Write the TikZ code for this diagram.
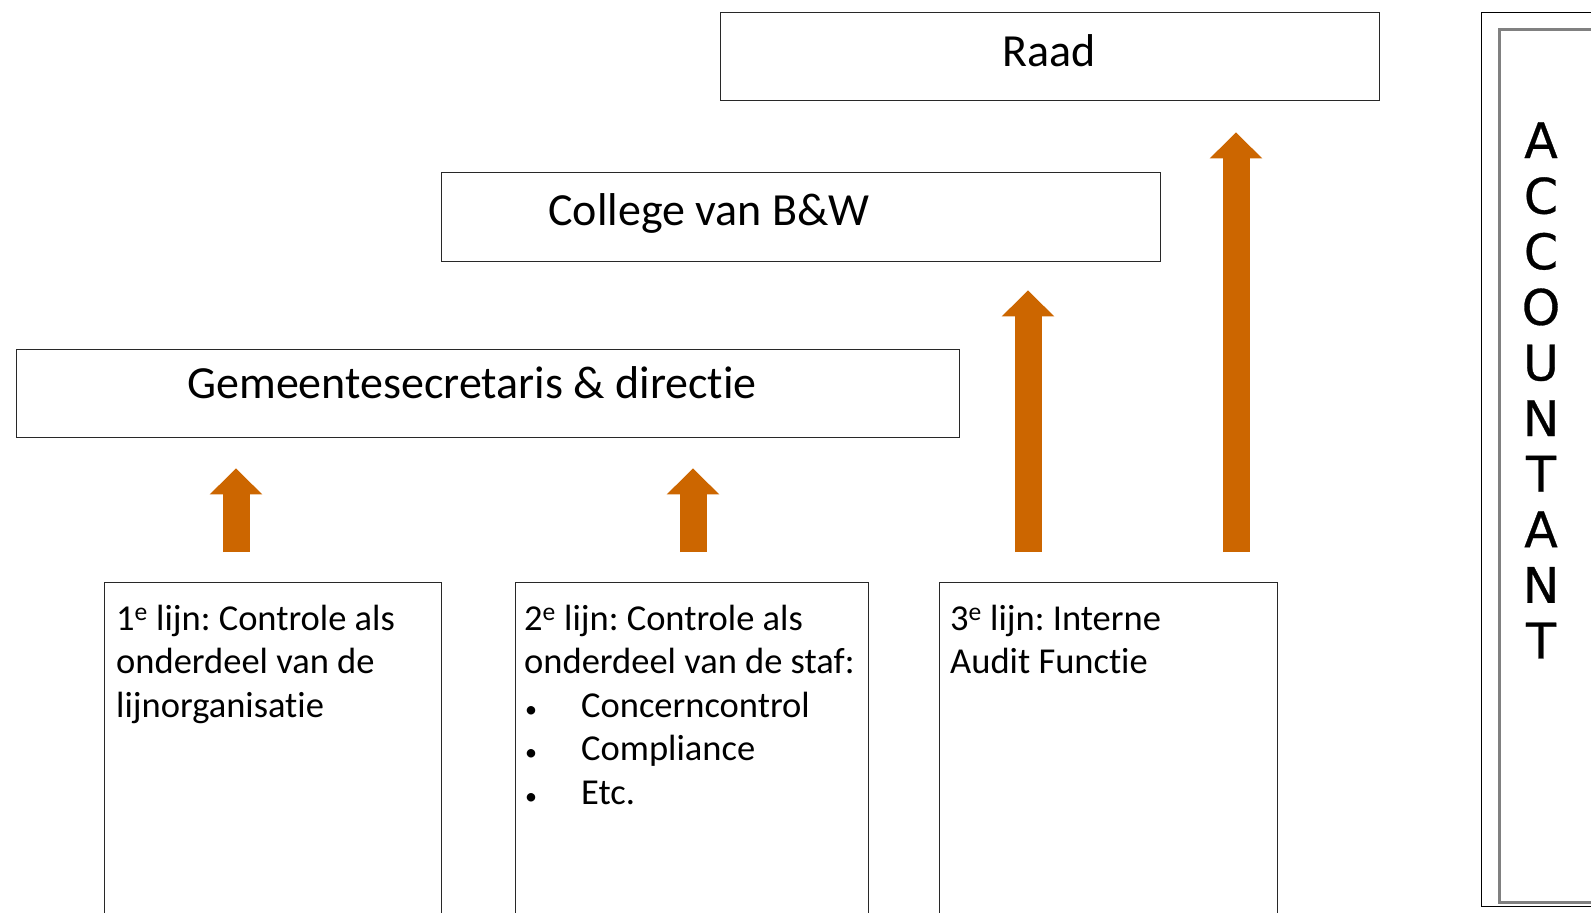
\documentclass[tikz,border=0pt]{standalone}
\usepackage{fontspec}
\setmainfont{Carlito}[RawFeature=-liga]
\newfontfamily\accfont{DejaVu Sans}[FakeBold=0.6]
\usetikzlibrary{arrows.meta}
\definecolor{arroworange}{RGB}{204,102,0}
\definecolor{boxline}{RGB}{40,40,40}
\newcommand{\bul}{\makebox[57pt][l]{\hspace{1pt}{\fontsize{24}{24}\selectfont •}}}
\begin{document}
\frenchspacing
\begin{tikzpicture}[x=1pt,y=-1pt,
  box/.style={draw=boxline,line width=1.4pt,rectangle,inner sep=0pt,anchor=north west,fill=white},
  title/.style={anchor=base,inner sep=0pt,font=\fontsize{46}{55}\selectfont},
  bodytext/.style={anchor=base west,inner sep=0pt,font=\fontsize{36.5}{43.6}\selectfont},
  bigarrow/.style={draw=arroworange,line width=27pt,-{Triangle[width=51pt,length=26pt]},
    arroworange,shorten <=30pt},
]
\useasboundingbox (0,0) rectangle (1591,913);
\fill[white] (0,0) rectangle (1591,913);

% top boxes
\node[box,minimum width=659pt,minimum height=88pt] (raad) at (720,12) {};
\node[box,minimum width=719pt,minimum height=89pt] (college) at (441,172) {};
\node[box,minimum width=943pt,minimum height=88pt] (gem) at (16,349) {};
\node[title] (raadt) at (1049,66) {Raad};
\node[title] (colleget) at (709,225) {College van B\&W};
\node[title] (gemt) at (472,398) {Gemeentesecretaris \& directie};

% lower boxes
\node[box,minimum width=337pt,minimum height=360pt] (l1) at (104,582) {};
\node[box,minimum width=353pt,minimum height=360pt] (l2) at (515,582) {};
\node[box,minimum width=338pt,minimum height=360pt] (l3) at (939,582) {};
\node[bodytext] (l1t) at (116,630) {\parbox[t]{320pt}{\raggedright 1\textsuperscript{e} lijn: Controle als\\onderdeel van de\\lijnorganisatie}};
\node[bodytext] (l2t) at (524,630) {\parbox[t]{340pt}{\raggedright 2\textsuperscript{e} lijn: Controle als\\onderdeel van de staf:\\\bul Concerncontrol\\\bul Compliance\\\bul Etc.}};
\node[bodytext] (l3t) at (950,630) {\parbox[t]{320pt}{\raggedright 3\textsuperscript{e} lijn: Interne\\Audit Functie}};

% accountant
\node[draw=black,line width=1pt,rectangle,inner sep=0pt,anchor=north west,minimum width=200pt,minimum height=894pt] (accout) at (1481,12) {};
\node[draw=black!50,line width=2.5pt,rectangle,inner sep=0pt,anchor=north west,minimum width=200pt,minimum height=873pt] (accin) at (1498,28) {};
\node[anchor=base,inner sep=0pt,font=\accfont\fontsize{49}{55.6}\selectfont] (acct) at (1541,158)
  {\parbox[t]{60pt}{\centering A\\C\\C\\O\\U\\N\\T\\A\\N\\T}};

% arrows
\coordinate (x1) at (236,0);
\coordinate (x2) at (693,0);
\coordinate (x3) at (1028,0);
\coordinate (x4) at (1236,0);
\draw[bigarrow,shorten >=30pt] (x1 |- l1.north) -- (x1 |- gem.south);
\draw[bigarrow,shorten >=30pt] (x2 |- l2.north) -- (x2 |- gem.south);
\draw[bigarrow,shorten >=28pt] (x3 |- l3.north) -- (x3 |- college.south);
\draw[bigarrow,shorten >=31pt] (x4 |- l3.north) -- (x4 |- raad.south);
\end{tikzpicture}
\end{document}
